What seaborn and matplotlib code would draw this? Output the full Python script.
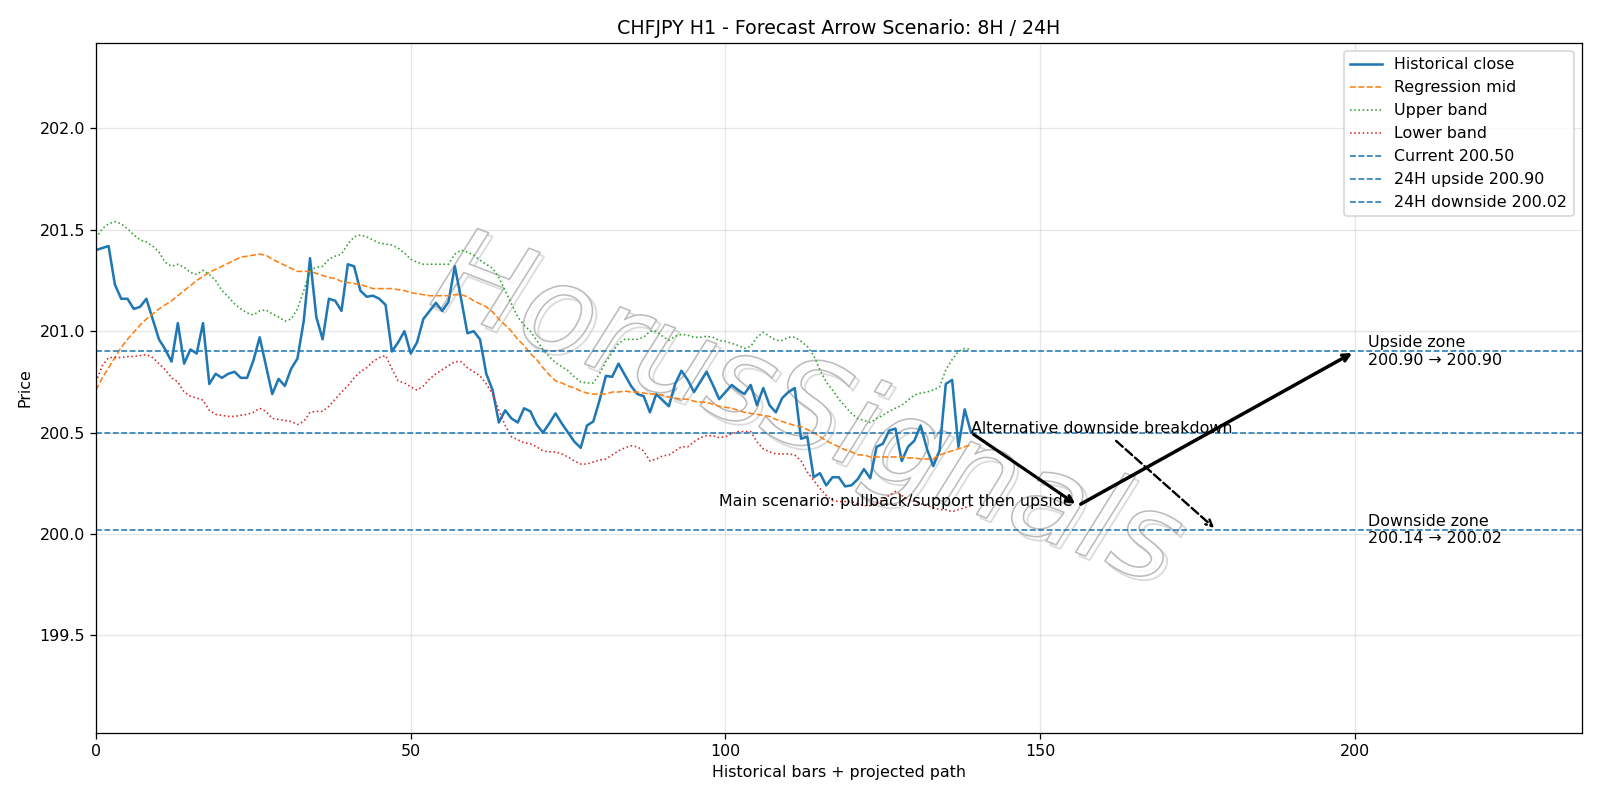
import numpy as np
import pandas as pd
import matplotlib
matplotlib.use("Agg")
import matplotlib.pyplot as plt
import matplotlib.patheffects as pe
import seaborn as sns

close = [201.40, 201.41, 201.42, 201.23, 201.16, 201.16, 201.11, 201.12, 201.16, 201.06,
         200.96, 200.91, 200.85, 201.04, 200.84, 200.91, 200.89, 201.04, 200.74, 200.79,
         200.77, 200.79, 200.80, 200.77, 200.77, 200.855, 200.97, 200.83, 200.69, 200.765,
         200.73, 200.815, 200.865, 201.05, 201.36, 201.07, 200.96, 201.16, 201.15, 201.10,
         201.33, 201.32, 201.20, 201.17, 201.175, 201.16, 201.13, 200.90, 200.945, 201.00,
         200.89, 200.945, 201.06, 201.10, 201.14, 201.10, 201.145, 201.32, 201.16, 200.99,
         201.00, 200.96, 200.79, 200.71, 200.55, 200.61, 200.57, 200.55, 200.62, 200.605,
         200.54, 200.50, 200.545, 200.595, 200.545, 200.50, 200.455, 200.425, 200.535, 200.555,
         200.66, 200.78, 200.775, 200.84, 200.785, 200.73, 200.69, 200.68, 200.60, 200.69,
         200.66, 200.63, 200.74, 200.805, 200.76, 200.70, 200.75, 200.80, 200.735, 200.665,
         200.70, 200.735, 200.71, 200.69, 200.735, 200.635, 200.72, 200.635, 200.60, 200.67,
         200.70, 200.72, 200.47, 200.48, 200.28, 200.30, 200.24, 200.28, 200.28, 200.235,
         200.24, 200.27, 200.32, 200.275, 200.43, 200.445, 200.51, 200.52, 200.36, 200.43,
         200.46, 200.535, 200.42, 200.335, 200.41, 200.74, 200.76, 200.43, 200.615, 200.50]

mid = [200.71, 200.77, 200.82, 200.87, 200.92, 200.96, 200.995, 201.03, 201.06, 201.085,
       201.11, 201.13, 201.15, 201.175, 201.20, 201.225, 201.25, 201.27, 201.29, 201.305,
       201.32, 201.335, 201.35, 201.365, 201.37, 201.375, 201.38, 201.375, 201.355, 201.34,
       201.325, 201.31, 201.295, 201.295, 201.295, 201.285, 201.275, 201.265, 201.26, 201.245,
       201.24, 201.235, 201.23, 201.22, 201.21, 201.21, 201.21, 201.21, 201.205, 201.20,
       201.19, 201.185, 201.18, 201.175, 201.175, 201.175, 201.175, 201.18, 201.18, 201.17,
       201.15, 201.135, 201.12, 201.095, 201.06, 201.03, 201.00, 200.96, 200.93, 200.89,
       200.86, 200.82, 200.785, 200.755, 200.745, 200.73, 200.72, 200.705, 200.695, 200.69,
       200.69, 200.69, 200.70, 200.70, 200.705, 200.70, 200.70, 200.695, 200.69, 200.69,
       200.685, 200.675, 200.67, 200.665, 200.665, 200.655, 200.65, 200.65, 200.64, 200.63,
       200.625, 200.62, 200.61, 200.60, 200.595, 200.59, 200.585, 200.58, 200.565, 200.555,
       200.545, 200.535, 200.53, 200.515, 200.50, 200.48, 200.46, 200.445, 200.43, 200.415,
       200.405, 200.39, 200.39, 200.38, 200.38, 200.38, 200.38, 200.38, 200.38, 200.375,
       200.375, 200.37, 200.37, 200.37, 200.39, 200.40, 200.41, 200.42, 200.43, 200.44]

upper = [201.46, 201.505, 201.53, 201.54, 201.53, 201.505, 201.475, 201.45, 201.44, 201.42,
         201.39, 201.34, 201.32, 201.33, 201.315, 201.29, 201.28, 201.30, 201.28, 201.25,
         201.20, 201.17, 201.135, 201.11, 201.09, 201.08, 201.10, 201.105, 201.085, 201.07,
         201.05, 201.06, 201.11, 201.20, 201.30, 201.315, 201.32, 201.355, 201.37, 201.38,
         201.43, 201.465, 201.475, 201.465, 201.45, 201.435, 201.43, 201.425, 201.41, 201.385,
         201.355, 201.34, 201.33, 201.33, 201.33, 201.33, 201.33, 201.38, 201.40, 201.39,
         201.375, 201.35, 201.33, 201.31, 201.265, 201.20, 201.135, 201.07, 201.03, 201.00,
         200.955, 200.91, 200.875, 200.845, 200.825, 200.805, 200.775, 200.75, 200.745, 200.745,
         200.79, 200.85, 200.895, 200.94, 200.96, 200.96, 200.96, 200.97, 201.00, 201.00,
         200.975, 200.955, 200.975, 200.985, 200.98, 200.97, 200.97, 200.975, 200.97, 200.955,
         200.95, 200.94, 200.93, 200.915, 200.925, 200.97, 200.995, 200.975, 200.955, 200.955,
         200.97, 200.97, 200.95, 200.925, 200.88, 200.81, 200.75, 200.71, 200.665, 200.63,
         200.595, 200.57, 200.56, 200.55, 200.57, 200.585, 200.605, 200.62, 200.635, 200.66,
         200.685, 200.695, 200.70, 200.71, 200.725, 200.81, 200.86, 200.90, 200.915, 200.91]

lower = [200.75, 200.83, 200.87, 200.87, 200.87, 200.875, 200.875, 200.88, 200.885, 200.87,
         200.84, 200.81, 200.77, 200.75, 200.70, 200.68, 200.67, 200.66, 200.61, 200.59,
         200.585, 200.58, 200.58, 200.585, 200.59, 200.60, 200.62, 200.605, 200.57, 200.565,
         200.56, 200.555, 200.54, 200.555, 200.60, 200.605, 200.605, 200.63, 200.665, 200.70,
         200.73, 200.77, 200.80, 200.82, 200.85, 200.87, 200.88, 200.815, 200.755, 200.745,
         200.725, 200.71, 200.73, 200.765, 200.79, 200.81, 200.83, 200.85, 200.85, 200.82,
         200.80, 200.78, 200.74, 200.69, 200.61, 200.535, 200.48, 200.465, 200.45, 200.445,
         200.43, 200.41, 200.405, 200.405, 200.395, 200.38, 200.36, 200.345, 200.345, 200.355,
         200.365, 200.37, 200.39, 200.41, 200.425, 200.435, 200.43, 200.41, 200.36, 200.37,
         200.385, 200.39, 200.41, 200.43, 200.43, 200.455, 200.475, 200.485, 200.485, 200.475,
         200.48, 200.495, 200.505, 200.505, 200.505, 200.455, 200.42, 200.405, 200.395, 200.395,
         200.395, 200.39, 200.36, 200.305, 200.265, 200.225, 200.19, 200.165, 200.16, 200.16,
         200.16, 200.15, 200.14, 200.14, 200.15, 200.17, 200.19, 200.21, 200.19, 200.17,
         200.16, 200.15, 200.14, 200.13, 200.12, 200.12, 200.11, 200.12, 200.13, 200.14]

current_price = 200.50
up_8h, up_24h = 200.90, 200.90
dn_8h, dn_24h = 200.14, 200.02
pullback_bar, target_bar = 156, 200
alt_bar = 178

bars = np.arange(len(close))
df = pd.DataFrame({"bar": bars, "close": close, "mid": mid, "upper": upper, "lower": lower})

DPI = 1600 / 14
fig, ax = plt.subplots(figsize=(14, 7), dpi=DPI)
fig.subplots_adjust(left=0.060, right=0.9885, top=0.946, bottom=0.084)

sns.lineplot(data=df, x="bar", y="close", ax=ax, color="#1f77b4", linewidth=1.6, label="Historical close")
sns.lineplot(data=df, x="bar", y="mid", ax=ax, color="#ff7f0e", linewidth=1.0, linestyle="--", label="Regression mid")
sns.lineplot(data=df, x="bar", y="upper", ax=ax, color="#2ca02c", linewidth=1.0, linestyle=":", label="Upper band")
sns.lineplot(data=df, x="bar", y="lower", ax=ax, color="#d62728", linewidth=1.0, linestyle=":", label="Lower band")

ax.axhline(current_price, color="#1f77b4", linestyle="--", linewidth=1.0, label=f"Current {current_price:.2f}")
ax.axhline(up_24h, color="#1f77b4", linestyle="--", linewidth=1.0, label=f"24H upside {up_24h:.2f}")
ax.axhline(dn_24h, color="#1f77b4", linestyle="--", linewidth=1.0, label=f"24H downside {dn_24h:.2f}")

last = bars[-1]
ax.annotate("", xy=(pullback_bar, dn_8h), xytext=(last, current_price),
            arrowprops=dict(arrowstyle="->", color="black", lw=2.0))
ax.annotate("", xy=(target_bar, up_24h), xytext=(pullback_bar, dn_8h),
            arrowprops=dict(arrowstyle="->", color="black", lw=2.2))
ax.text(pullback_bar - 0.8, dn_8h, "Main scenario: pullback/support then upside",
        ha="right", va="baseline", fontsize=10)
ax.annotate("Alternative downside breakdown", xy=(alt_bar, dn_24h), xytext=(last, current_price),
            fontsize=10,
            arrowprops=dict(arrowstyle="->", color="black", lw=1.5, linestyle="--"))

ax.text(202, up_24h, f"Upside zone\n{up_8h:.2f} \u2192 {up_24h:.2f}", va="center", ha="left", fontsize=10)
ax.text(202, dn_24h, f"Downside zone\n{dn_8h:.2f} \u2192 {dn_24h:.2f}", va="center", ha="left", fontsize=10)

wm = ax.text(0.478, 0.463, "HorusSignals", transform=ax.transAxes, fontsize=76,
             fontstyle="italic", fontweight="light", rotation=-21, ha="center", va="center",
             color="white", alpha=0.0, zorder=0.5)
wm.set_path_effects([pe.Stroke(offset=(2.5, -2.5), linewidth=1.2, foreground="#d4d4d4", alpha=0.8),
                     pe.Stroke(linewidth=1.0, foreground="#b0b0b0", alpha=0.85)])

ax.set_xlim(0, 236)
ax.set_ylim(199.02, 202.42)
ax.grid(True, alpha=0.3)
ax.set_title("CHFJPY H1 - Forecast Arrow Scenario: 8H / 24H", fontsize=12)
ax.set_xlabel("Historical bars + projected path")
ax.set_ylabel("Price")
ax.legend(loc="upper right")

fig.savefig("out.png", dpi=DPI)
